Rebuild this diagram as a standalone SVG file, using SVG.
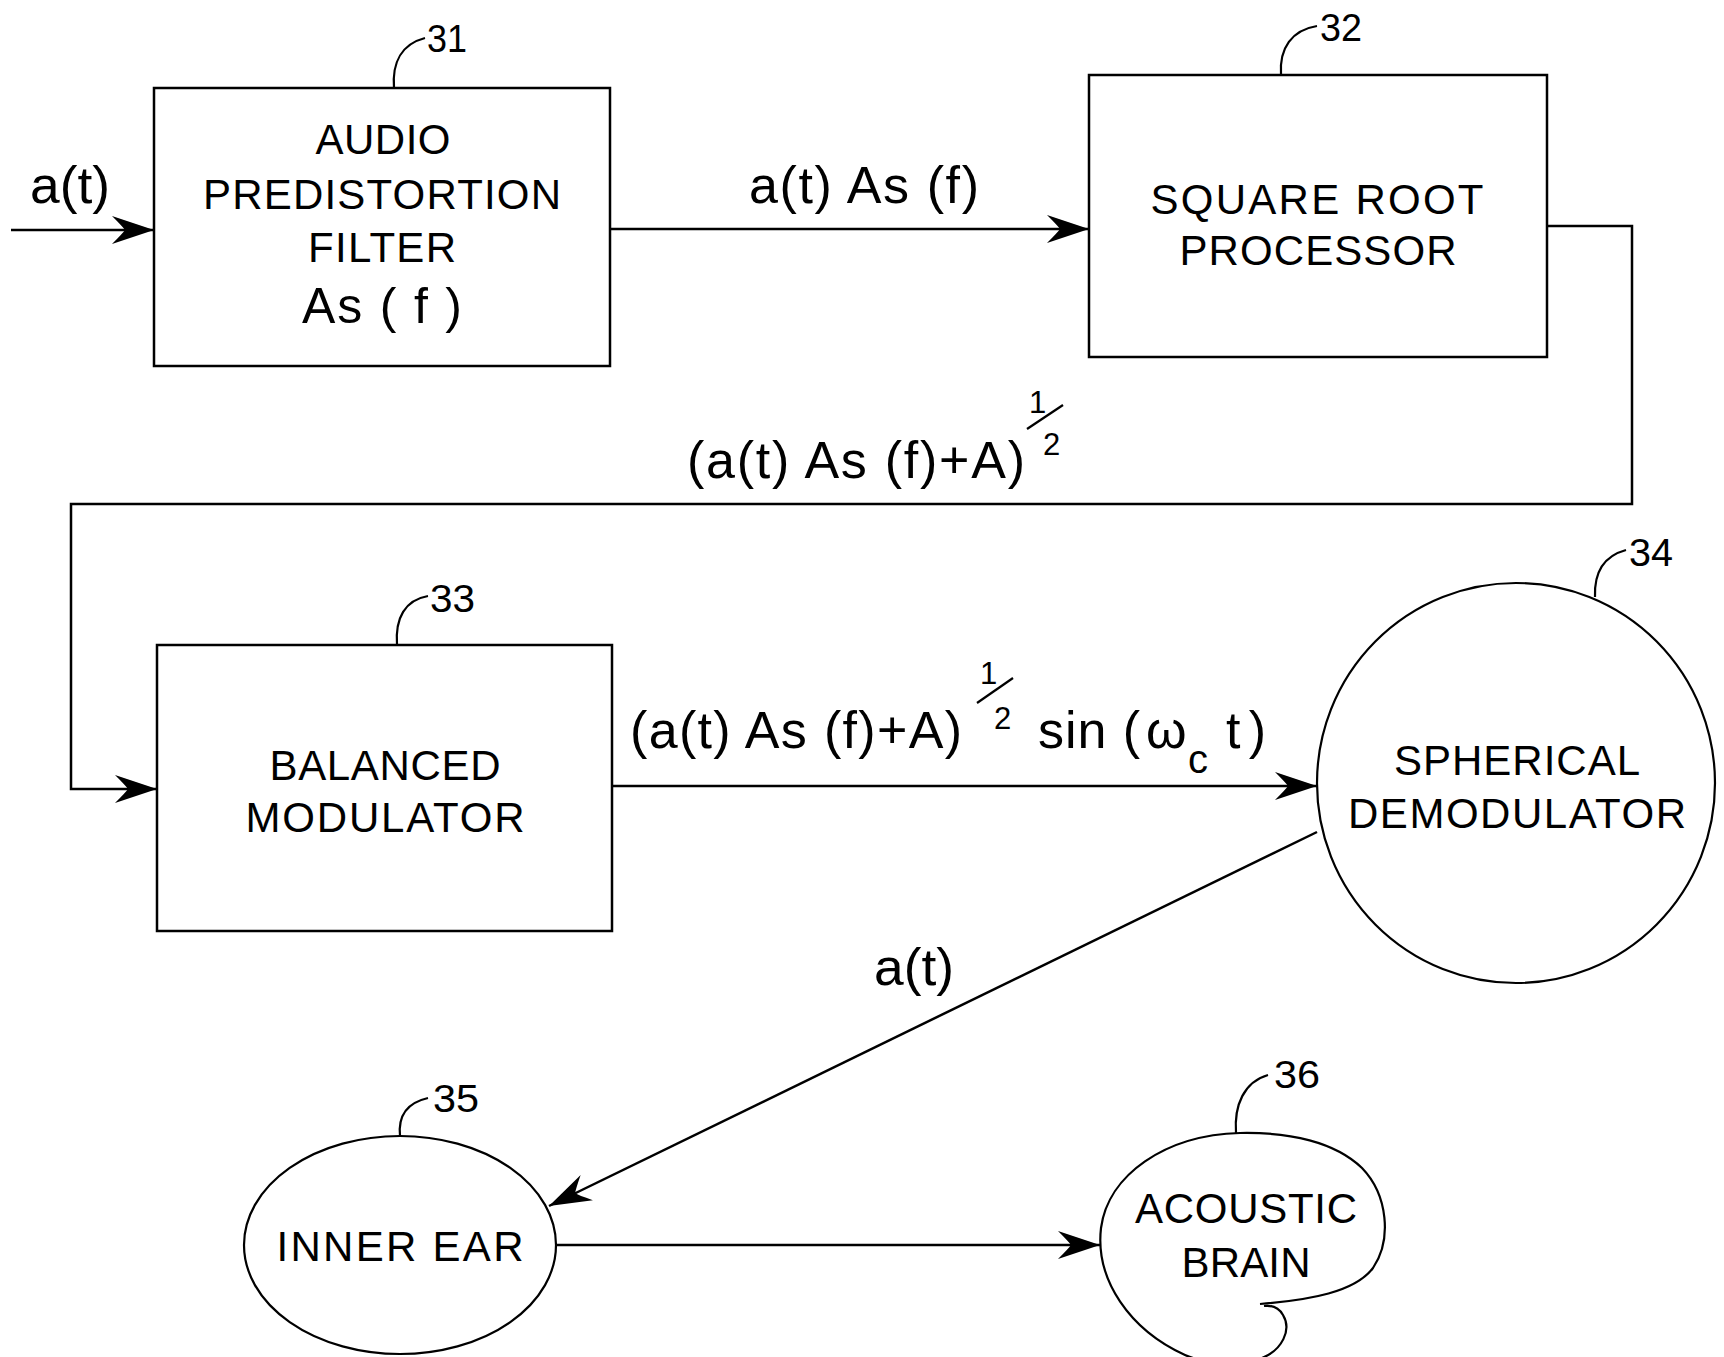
<svg xmlns="http://www.w3.org/2000/svg" width="1724" height="1357" viewBox="0 0 1724 1357">
<style>
  text { font-family: "Liberation Sans", Arial, sans-serif; fill: #000; }
  .box { fill: #fff; stroke: #000; stroke-width: 2.5; }
  .shape { fill: none; stroke: #000; stroke-width: 2.2; }
  .lead { fill: none; stroke: #000; stroke-width: 2.2; }
  .wire { fill: none; stroke: #000; stroke-width: 2.5; }
  .lbl { font-size: 42px; text-anchor: middle; }
  .num { font-size: 39px; }
  .f { font-size: 52px; }
  .sup { font-size: 31px; }
</style>
<defs>
  <marker id="ah" markerUnits="userSpaceOnUse" markerWidth="46" markerHeight="34" viewBox="-44 -17 46 34" refX="0" refY="0" orient="auto">
    <path d="M0,0 L-42,-14 Q-31,-3 -29,0 Q-31,3 -42,14 Z" fill="#000"/>
  </marker>
</defs>
<rect width="1724" height="1357" fill="#fff"/>

<g id="connectors">
  <line class="wire" x1="11" y1="230" x2="154" y2="230" marker-end="url(#ah)"/>
  <line class="wire" x1="610" y1="229" x2="1089" y2="229" marker-end="url(#ah)"/>
  <polyline class="wire" points="1547,226 1632,226 1632,504 71,504 71,789 157,789" marker-end="url(#ah)"/>
  <line class="wire" x1="612" y1="786" x2="1317" y2="786" marker-end="url(#ah)"/>
  <line class="wire" x1="1317" y1="832" x2="549" y2="1206" marker-end="url(#ah)"/>
  <line class="wire" x1="556" y1="1245" x2="1100" y2="1245" marker-end="url(#ah)"/>
</g>

<g id="edge-labels">
  <text class="f" x="30" y="203" textLength="80" lengthAdjust="spacingAndGlyphs">a(t)</text>
  <text class="f" x="749" y="203" textLength="230" lengthAdjust="spacing">a(t) As (f)</text>
  <text class="f" x="687" y="478" textLength="338" lengthAdjust="spacing">(a(t) As (f)+A)</text>
  <text class="sup" x="1029" y="413">1</text>
  <line class="lead" x1="1027" y1="429" x2="1063" y2="405"/>
  <text class="sup" x="1043" y="455">2</text>
  <text class="f" x="630" y="748" textLength="332" lengthAdjust="spacing">(a(t) As (f)+A)</text>
  <text class="sup" x="980" y="684">1</text>
  <line class="lead" x1="977" y1="703" x2="1013" y2="678"/>
  <text class="sup" x="994" y="729">2</text>
  <text class="f" x="1038" y="748" textLength="102" lengthAdjust="spacing">sin (</text>
  <text class="f" x="1146" y="748">ω</text>
  <text class="f" x="1188" y="773" style="font-size:40px">c</text>
  <text class="f" x="1226" y="748" textLength="40" lengthAdjust="spacing">t )</text>
  <text class="f" x="874" y="985" textLength="80" lengthAdjust="spacingAndGlyphs">a(t)</text>
</g>

<g id="n31">
  <rect class="box" x="154" y="88" width="456" height="278"/>
  <path class="lead" d="M394,88 C392,62 402,44 425,38"/>
  <text class="num" x="427" y="52" textLength="40" lengthAdjust="spacingAndGlyphs">31</text>
  <text class="lbl" x="383" y="154" textLength="135" lengthAdjust="spacing">AUDIO</text>
  <text class="lbl" x="382" y="209" textLength="358" lengthAdjust="spacing">PREDISTORTION</text>
  <text class="lbl" x="382" y="262" textLength="148" lengthAdjust="spacing">FILTER</text>
  <text class="lbl" x="382" y="323" style="font-size:50px" textLength="160" lengthAdjust="spacing">As ( f )</text>
</g>

<g id="n32">
  <rect class="box" x="1089" y="75" width="458" height="282"/>
  <path class="lead" d="M1281,75 C1279,48 1292,30 1317,26"/>
  <text class="num" x="1320" y="41" textLength="42" lengthAdjust="spacingAndGlyphs">32</text>
  <text class="lbl" x="1317" y="214" textLength="333" lengthAdjust="spacing">SQUARE ROOT</text>
  <text class="lbl" x="1318" y="265" textLength="277" lengthAdjust="spacing">PROCESSOR</text>
</g>

<g id="n33">
  <rect class="box" x="157" y="645" width="455" height="286"/>
  <path class="lead" d="M397,645 C395,618 405,600 428,596"/>
  <text class="num" x="430" y="612" textLength="45" lengthAdjust="spacingAndGlyphs">33</text>
  <text class="lbl" x="385" y="780" textLength="231" lengthAdjust="spacing">BALANCED</text>
  <text class="lbl" x="385" y="832" textLength="279" lengthAdjust="spacing">MODULATOR</text>
</g>

<g id="n34">
  <ellipse class="shape" cx="1516" cy="783" rx="199" ry="200"/>
  <path class="lead" d="M1595,597 C1594,572 1604,556 1626,550"/>
  <text class="num" x="1629" y="566" textLength="44" lengthAdjust="spacingAndGlyphs">34</text>
  <text class="lbl" x="1517" y="775" textLength="246" lengthAdjust="spacing">SPHERICAL</text>
  <text class="lbl" x="1517" y="828" textLength="338" lengthAdjust="spacing">DEMODULATOR</text>
</g>

<g id="n35">
  <ellipse class="shape" cx="400" cy="1245" rx="156" ry="109"/>
  <path class="lead" d="M400,1136 C398,1116 406,1103 428,1098"/>
  <text class="num" x="433" y="1112" textLength="46" lengthAdjust="spacingAndGlyphs">35</text>
  <text class="lbl" x="400" y="1261" textLength="247" lengthAdjust="spacing">INNER EAR</text>
</g>

<g id="n36">
  <path class="shape" d="M1260,1304 C1310,1300 1355,1292 1373,1268 C1392,1240 1388,1195 1362,1168 C1335,1142 1290,1132 1240,1133 C1165,1135 1108,1175 1101,1228 C1095,1280 1130,1330 1185,1355 C1205,1364 1245,1366 1262,1358 C1282,1350 1292,1330 1283,1315 C1279,1308 1272,1305 1264,1306"/>
  <path class="lead" d="M1236,1133 C1234,1105 1244,1082 1268,1075"/>
  <text class="num" x="1274" y="1088" textLength="46" lengthAdjust="spacingAndGlyphs">36</text>
  <text class="lbl" x="1246" y="1223" textLength="222" lengthAdjust="spacing">ACOUSTIC</text>
  <text class="lbl" x="1246" y="1277" textLength="129" lengthAdjust="spacing">BRAIN</text>
</g>
</svg>
